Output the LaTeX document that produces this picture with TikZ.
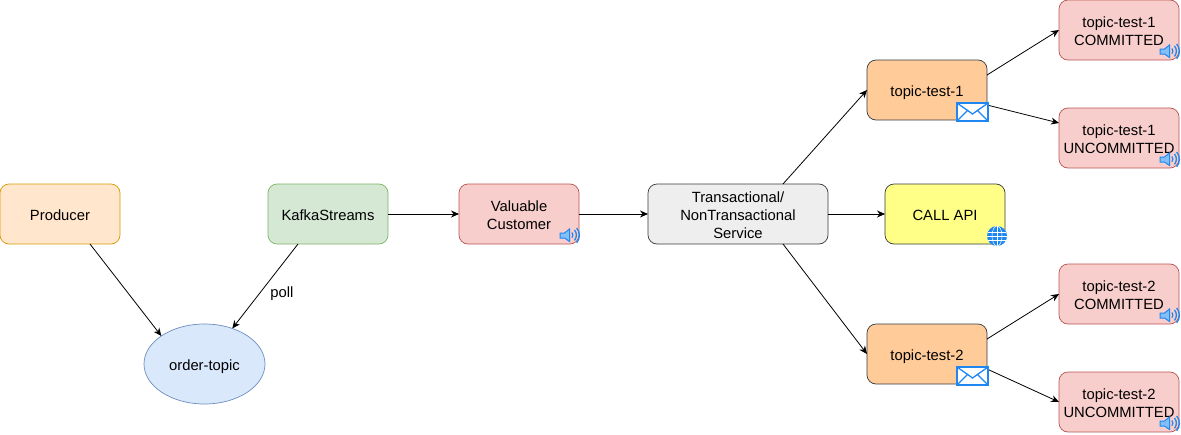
\documentclass[tikz,border=0pt]{standalone}
\usepackage{fontspec}
\setmainfont{Liberation Sans}
\usetikzlibrary{arrows.meta,calc,shapes.geometric}
\definecolor{iconblue}{HTML}{1E88F0}
\tikzset{>={Stealth[length=8pt,width=7pt]}}
\tikzset{flow/.style={->,line width=0.8pt}}
\tikzset{label/.style={font=\fontsize{14.8}{18}\selectfont,align=center,text height=16pt,text depth=3.4pt}}
\tikzset{box/.style={draw,label,rounded corners=9pt,minimum width=120pt,minimum height=60pt,inner sep=0pt,outer sep=0pt,line width=0.7pt}}
\tikzset{redbox/.style={box,text height=34pt,fill={rgb,255:red,248;green,206;blue,204},draw={rgb,255:red,184;green,84;blue,80}}}
\tikzset{topicbox/.style={box,fill={rgb,255:red,255;green,204;blue,153},draw={rgb,255:red,54;green,57;blue,61}}}
\tikzset{speaker/.pic={
  \draw[iconblue,fill=iconblue!55!white,line width=1pt] (-19,-11) -- (-14.5,-11) -- (-9.5,-15) -- (-9.5,-2.5) -- (-14.5,-6) -- (-19,-6) -- cycle;
  \draw[iconblue,line width=1.3pt] (-7,-11.5) arc (-35:35:4.5);
  \draw[iconblue,line width=1.3pt] (-4.5,-14) arc (-40:40:8);
  \draw[iconblue,line width=1.3pt] (-2.3,-16) arc (-40:40:11.5);
}}
\tikzset{mail/.pic={
  \draw[iconblue,fill=white,line width=1.6pt] (-30,-17) rectangle (1,1);
  \draw[iconblue,line width=1.3pt] (-30,-17) -- (-14.5,-6) -- (1,-17);
  \draw[iconblue,line width=1.3pt] (-30,1) -- (-19,-10);
  \draw[iconblue,line width=1.3pt] (1,1) -- (-10,-10);
}}
\tikzset{globe/.pic={
  \fill[iconblue] (-8,-8) circle (10);
  \draw[white,line width=0.5pt] (-8,-8) circle (5 and 10);
  \draw[white,line width=0.5pt] (-8,-18) -- (-8,2);
  \draw[white,line width=0.5pt] (-17,-12) -- (1,-12);
  \draw[white,line width=0.5pt] (-18,-8) -- (2,-8);
  \draw[white,line width=0.5pt] (-17,-4) -- (1,-4);
}}

\begin{document}
\begin{tikzpicture}[x=1pt,y=-1pt]
  \useasboundingbox (0,0) rectangle (1181,434);
  \node[box,fill={rgb,255:red,255;green,230;blue,204},draw={rgb,255:red,215;green,155;blue,0}] (producer) at (60,214) {Producer};
  \node[box,fill={rgb,255:red,213;green,232;blue,212},draw={rgb,255:red,130;green,179;blue,102}] (streams) at (328,214) {KafkaStreams};
  \node[redbox] (valuable) at (519,214) {Valuable\\Customer};
  \node[box,text height=52pt,minimum width=180pt,fill={rgb,255:red,238;green,238;blue,238},draw={rgb,255:red,54;green,57;blue,61}] (service) at (738,214) {Transactional/\\NonTransactional\\Service};
  \node[box,fill={rgb,255:red,255;green,255;blue,136},draw={rgb,255:red,54;green,57;blue,61}] (api) at (945,214) {CALL API};
  \node[topicbox] (topicA) at (927,90) {topic-test-1};
  \node[topicbox] (topicB) at (927,354) {topic-test-2};
  \node[redbox] (topicAc) at (1119,30) {topic-test-1\\COMMITTED};
  \node[redbox] (topicAu) at (1119,138) {topic-test-1\\UNCOMMITTED};
  \node[redbox] (topicBc) at (1119,294) {topic-test-2\\COMMITTED};
  \node[redbox] (topicBu) at (1119,402) {topic-test-2\\UNCOMMITTED};
  \node[ellipse,label,draw={rgb,255:red,108;green,142;blue,191},fill={rgb,255:red,218;green,232;blue,252},minimum width=121pt,minimum height=80pt,inner sep=0pt,outer sep=0pt,line width=0.7pt] (order) at (204.5,364) {order-topic};
  % connectors
  \draw[flow] ($(producer.south)!0.5!(producer.south east)$) -- (order.147);
  \draw[flow] ($(streams.south)!0.5!(streams.south west)$) -- (order.52);
  \node[label] (polllabel) at (282,291) {poll};
  \draw[flow] (streams) -- (valuable);
  \draw[flow] (valuable) -- (service);
  \draw[flow] (service) -- (api);
  \draw[flow] ($(service.north)!0.5!(service.north east)$) -- (topicA.west);
  \draw[flow] ($(service.south)!0.5!(service.south east)$) -- (topicB.west);
  \draw[flow] ($(topicA.east)+(0,-15)$) -- (topicAc.west);
  \draw[flow] ($(topicA.east)+(0,15)$) -- ($(topicAu.west)+(0,-15)$);
  \draw[flow] ($(topicB.east)+(0,-15)$) -- (topicBc.west);
  \draw[flow] ($(topicB.east)+(0,15)$) -- (topicBu.west);
  % icons
  \pic at (valuable.south east) {speaker};
  \pic at (topicAc.south east) {speaker};
  \pic at (topicAu.south east) {speaker};
  \pic at (topicBc.south east) {speaker};
  \pic at (topicBu.south east) {speaker};
  \pic at (topicA.south east) {mail};
  \pic at (topicB.south east) {mail};
  \pic at (api.south east) {globe};
\end{tikzpicture}
\end{document}
